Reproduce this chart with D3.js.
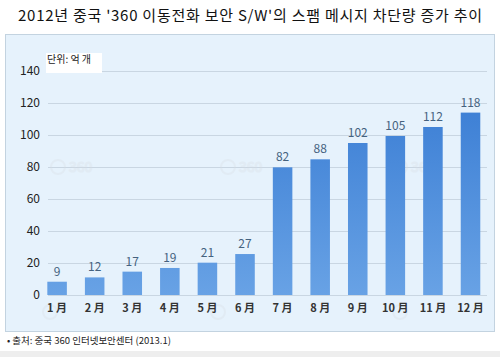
<!DOCTYPE html>
<html><head><meta charset="utf-8">
<script src="https://cdn.jsdelivr.net/npm/d3@7"></script>
<style>body{margin:0;background:#fff}svg{display:block}</style>
</head><body>
<script>
const months = ["1 月","2 月","3 月","4 月","5 月","6 月","7 月","8 月","9 月","10 月","11 月","12 月"];
// printed value labels
const labels = [9,12,17,19,21,27,82,88,102,105,112,118];
// bar heights as drawn in the picture
const values = [8.3,11,14.6,16.9,20.2,25.6,79.8,84.8,95,99.4,105,114];
const yTicks = [0,20,40,60,80,100,120,140];
const title = "2012년 중국 '360 이동전화 보안 S/W'의 스팸 메시지 차단량 증가 추이";
const unitLabel = "단위: 억 개";
const source = "• 출처: 중국 360 인터넷보안센터 (2013.1)";

const W = 500, H = 357;
const svg = d3.select("body").append("svg").attr("width", W).attr("height", H);
const font = "'Noto Sans CJK KR','Noto Sans',sans-serif";

svg.append("rect").attr("width", W).attr("height", H).attr("fill", "#ffffff");
svg.append("rect").attr("x", 0).attr("y", 351).attr("width", W).attr("height", 6).attr("fill", "#eeeeee");

svg.append("text").attr("x", 250).attr("y", 21).attr("text-anchor", "middle")
  .attr("font-family", font).attr("font-size", 15).attr("fill", "#111")
  .attr("textLength", 464).attr("lengthAdjust", "spacing")
  .text(title);

// panel
svg.append("rect").attr("x", 5.5).attr("y", 34.5).attr("width", 489).attr("height", 297)
  .attr("fill", "#e6f2fc").attr("stroke", "#c3d3e0");

const x = d3.scaleBand().domain(months).range([38.3, 489.3]).paddingInner(0.48).paddingOuter(0.24);
const y = d3.scaleLinear().domain([0, 140]).range([295, 71]);

// gridlines
svg.append("g").selectAll("line").data(yTicks).join("line")
  .attr("x1", 48).attr("x2", 487)
  .attr("y1", d => y(d) + 0.5).attr("y2", d => y(d) + 0.5)
  .attr("stroke", "#c9d6e2").attr("stroke-width", 1);

// y axis
const yAxis = d3.axisLeft(y).tickValues(yTicks).tickSize(0).tickPadding(0);
const gy = svg.append("g").attr("transform", "translate(40,0)").call(yAxis);
gy.select(".domain").remove();
gy.selectAll("text").attr("font-family", font).attr("font-size", 12).attr("fill", "#222");

// faint watermark logos
const wm = [[58,167],[228,167],[400,167],[50,312],[218,312],[400,312]];
const wg = svg.append("g").attr("opacity", 0.3);
wm.forEach(([cx, cy], i) => {
  wg.append("circle").attr("cx", cx).attr("cy", cy).attr("r", 7).attr("fill", "none").attr("stroke", "#d8dde2").attr("stroke-width", 2);
  if (i < 3) {
    wg.append("text").attr("x", cx + 11).attr("y", cy + 5).attr("font-family", font).attr("font-size", 14)
      .attr("fill", "none").attr("stroke", "#d8dde2").attr("stroke-width", 1.2).text("360");
  }
});

// gradient
const defs = svg.append("defs");
const grad = defs.append("linearGradient").attr("id", "bg")
  .attr("gradientUnits", "userSpaceOnUse").attr("x1", 0).attr("x2", 0).attr("y1", y(140)).attr("y2", y(0));
grad.append("stop").attr("offset", "0%").attr("stop-color", "#3579d2");
grad.append("stop").attr("offset", "100%").attr("stop-color", "#68a2e5");

svg.append("g").selectAll("rect").data(values).join("rect")
  .attr("x", (d, i) => x(months[i]))
  .attr("y", d => y(d))
  .attr("width", x.bandwidth())
  .attr("height", d => y(0) - y(d))
  .attr("fill", "url(#bg)");

svg.append("g").selectAll("text").data(values).join("text")
  .attr("x", (d, i) => x(months[i]) + x.bandwidth() / 2)
  .attr("y", d => y(d) - 6)
  .attr("text-anchor", "middle")
  .attr("font-family", font).attr("font-size", 12).attr("fill", "#45627f")
  .text((d, i) => labels[i]);

// x axis
const xAxis = d3.axisBottom(x).tickSize(0).tickPadding(0);
const gx = svg.append("g").attr("transform", "translate(0,304)").call(xAxis);
gx.select(".domain").remove();
gx.selectAll("text").attr("font-family", font).attr("font-size", 11).attr("fill", "#333").attr("font-weight", "bold")
  .attr("dy", "0.71em");

// unit box
svg.append("rect").attr("x", 46).attr("y", 53).attr("width", 56).attr("height", 20).attr("fill", "#ffffff");
svg.append("text").attr("x", 47).attr("y", 63).attr("font-family", font).attr("font-size", 10).attr("fill", "#222").text(unitLabel);

// source
svg.append("text").attr("x", 7).attr("y", 344).attr("font-family", font).attr("font-size", 9.5).attr("fill", "#222").text(source);
</script>
</body></html>
